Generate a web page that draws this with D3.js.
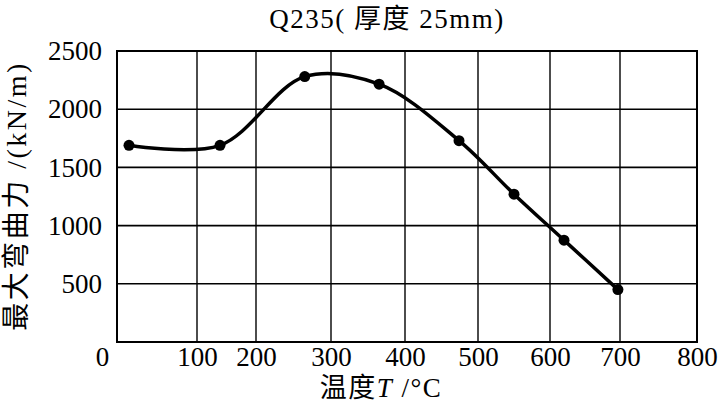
<!DOCTYPE html>
<html>
<head>
<meta charset="utf-8">
<script src="https://cdn.jsdelivr.net/npm/d3@7"></script>
<style>
body { margin: 0; background: #fff; }
text { font-family: "Liberation Serif", "Noto Sans CJK SC", serif; fill: #000; }
</style>
</head>
<body>
<div id="chart"></div>
<script>
var WIDTH = 719;
var HEIGHT = 414;
var LEFT = 117;
var RIGHT = 697;
var TOP = 51;
var BOTTOM = 342;
var FONT = 27;

// temperature (C) and max bending force (kN/m)
var temps = [15, 139, 265, 365, 474, 550, 620, 697];
var forces = [1690, 1690, 2280, 2215, 1730, 1270, 875, 450];

var xTicks = [0, 100, 200, 300, 400, 500, 600, 700, 800];
var yTicks = [0, 500, 1000, 1500, 2000, 2500];
var yLabels = [500, 1000, 1500, 2000, 2500];

// the printed x axis is not evenly spaced, so map each tick to its gridline
var X_BREAKS = [117, 197, 256, 331, 405, 478, 550, 620, 697];

function drawGrid(svg, x, y) {
    svg.selectAll(".vgrid").data(xTicks.slice(1, -1)).enter()
        .append("line").attr("class", "vgrid")
        .attr("x1", function (d) { return x(d); })
        .attr("x2", function (d) { return x(d); })
        .attr("y1", TOP).attr("y2", BOTTOM)
        .attr("stroke", "#000").attr("stroke-width", 1.4);
    svg.selectAll(".hgrid").data(yTicks.slice(1, -1)).enter()
        .append("line").attr("class", "hgrid")
        .attr("x1", LEFT).attr("x2", RIGHT)
        .attr("y1", function (d) { return y(d); })
        .attr("y2", function (d) { return y(d); })
        .attr("stroke", "#000").attr("stroke-width", 1.6);
    svg.append("rect")
        .attr("x", LEFT).attr("y", TOP)
        .attr("width", RIGHT - LEFT).attr("height", BOTTOM - TOP)
        .attr("fill", "none").attr("stroke", "#000").attr("stroke-width", 2);
}

function drawAxes(svg, x, y) {
    var xAxis = svg.append("g")
        .attr("transform", "translate(0," + BOTTOM + ")")
        .call(d3.axisBottom(x).tickValues(xTicks).tickSize(0).tickPadding(5)
            .tickFormat(d3.format("d")));
    xAxis.select(".domain").remove();
    xAxis.selectAll("text")
        .attr("dx", function (d) { return d === 0 ? -15 : 0; });

    var yAxis = svg.append("g")
        .attr("transform", "translate(" + LEFT + ",0)")
        .call(d3.axisLeft(y).tickValues(yLabels).tickSize(0).tickPadding(15)
            .tickFormat(d3.format("d")));
    yAxis.select(".domain").remove();

    svg.selectAll(".tick text")
        .attr("font-size", null).attr("font-family", null)
        .style("font-family", "'Liberation Serif', serif")
        .style("font-size", FONT + "px");
}

function drawLabels(svg) {
    svg.append("text")
        .attr("x", 387).attr("y", 28)
        .attr("text-anchor", "middle").attr("font-size", FONT)
        .attr("letter-spacing", 1.5)
        .text("Q235( 厚度 25mm)");

    var xl = svg.append("text")
        .attr("x", 381).attr("y", 397)
        .attr("text-anchor", "middle").attr("font-size", FONT)
        .attr("letter-spacing", 1.5);
    xl.append("tspan").text("温度");
    xl.append("tspan").attr("font-style", "italic").text("T");
    xl.append("tspan").text(" /°C");

    svg.append("text")
        .attr("transform", "translate(26,196) rotate(-90)")
        .attr("text-anchor", "middle").attr("font-size", 28)
        .attr("letter-spacing", 2.5)
        .text("最大弯曲力 /(kN/m)");
}

function drawSeries(svg, x, y) {
    var pts = temps.map(function (t, i) { return [t, forces[i]]; });
    var line = d3.line()
        .x(function (d) { return x(d[0]); })
        .y(function (d) { return y(d[1]); })
        .curve(d3.curveCatmullRom);
    svg.append("path")
        .datum(pts)
        .attr("d", line)
        .attr("fill", "none").attr("stroke", "#000").attr("stroke-width", 3.5);
    svg.selectAll(".pt").data(pts).enter()
        .append("circle").attr("class", "pt")
        .attr("cx", function (d) { return x(d[0]); })
        .attr("cy", function (d) { return y(d[1]); })
        .attr("r", 5.5).attr("fill", "#000");
}

function drawChart() {
    var svg = d3.select("#chart").append("svg")
        .attr("width", WIDTH).attr("height", HEIGHT);
    var x = d3.scaleLinear().domain(xTicks).range(X_BREAKS);
    var y = d3.scaleLinear().domain([0, 2500]).range([BOTTOM, TOP]);
    drawGrid(svg, x, y);
    drawAxes(svg, x, y);
    drawLabels(svg);
    drawSeries(svg, x, y);
}
drawChart();
</script>
</body>
</html>
